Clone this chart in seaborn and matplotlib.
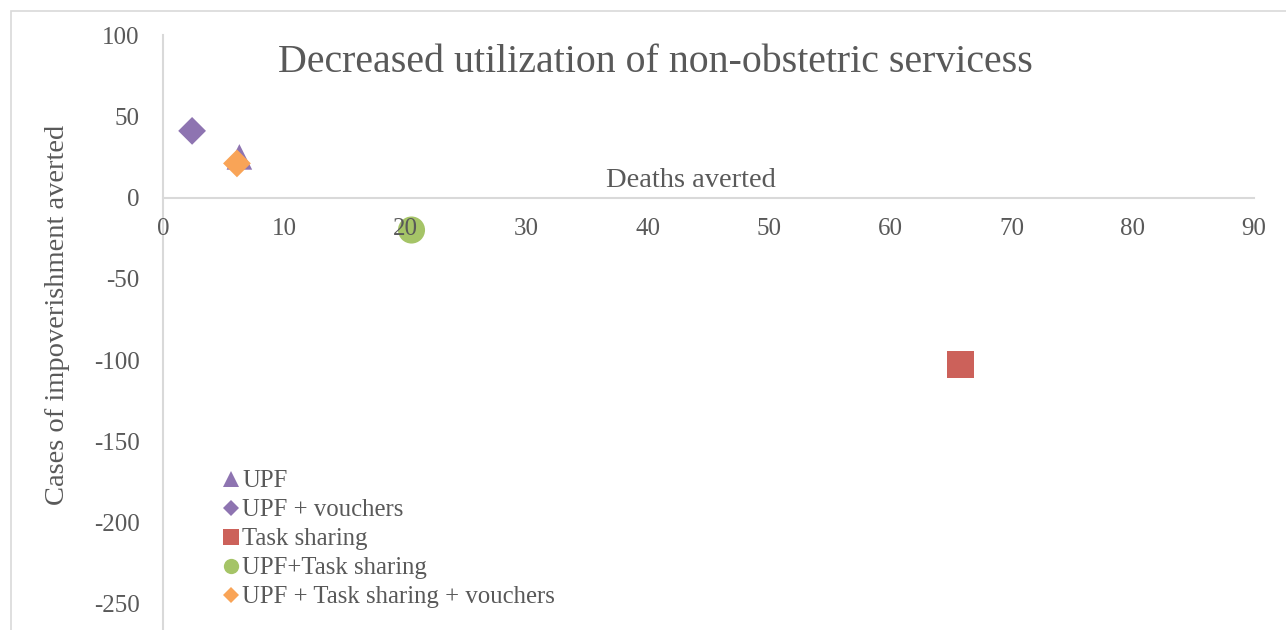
import matplotlib
matplotlib.use("Agg")
import matplotlib.pyplot as plt
import matplotlib.patches as mpatches
from matplotlib.lines import Line2D
import pandas as pd
import seaborn as sns

# values
schemes = ["UPF", "UPF + vouchers", "Task sharing", "UPF+Task sharing",
           "UPF + Task sharing + vouchers"]
deaths_averted = [6.3, 2.4, 65.8, 20.5, 6.1]
impoverishment_averted = [25, 41, -103, -20, 21]
colors = ["#8E74B1", "#8E74B1", "#CC615A", "#A5C467", "#F9A457"]
markers = ["^", "D", "s", "o", "D"]
marker_sizes = [340, 200, 380, 380, 200]

xticks = list(range(0, 91, 10))
yticks = list(range(-250, 101, 50))

df = pd.DataFrame({"scheme": schemes, "deaths": deaths_averted,
                   "impov": impoverishment_averted})

sns.set_style("white")
plt.rcParams["font.family"] = ["Liberation Serif", "DejaVu Serif"]
grey = "#595959"
line_grey = "#D9D9D9"

fig = plt.figure(figsize=(12.86, 6.3), dpi=100)
ax = fig.add_axes([163 / 1286, 1 - 629 / 630, (1254 - 163) / 1286, (629 - 35) / 630])

# draw each series separately so marker sizes can differ
for i, name in enumerate(schemes):
    sns.scatterplot(data=df[df["scheme"] == name], x="deaths", y="impov",
                    marker=markers[i], color=colors[i], s=marker_sizes[i],
                    edgecolor="none", ax=ax, zorder=2)

for side in ["top", "right"]:
    ax.spines[side].set_visible(False)
ax.spines["bottom"].set_position(("data", 0))
for side in ["bottom", "left"]:
    ax.spines[side].set_color(line_grey)
    ax.spines[side].set_linewidth(1.5)
    ax.spines[side].set_zorder(1)

ax.set_xlim(0, 90)
ax.set_ylim(-265.5, 100)
ax.set_xticks(xticks)
ax.set_yticks(yticks)
ax.set_xticklabels([str(v) for v in xticks], color=grey, fontsize=18)
ax.set_yticklabels([str(v) for v in yticks], color=grey, fontsize=18)
ax.tick_params(axis="x", length=0, pad=15)
ax.tick_params(axis="y", length=0, pad=17)
# tick labels sit on top of the markers (the "20" over the green circle)
ax.set_axisbelow(False)
ax.set_xlabel("")
ax.set_ylabel("Cases of impoverishment averted", fontsize=20.5, color=grey)
ax.yaxis.set_label_coords((70 - 163) / 1091, (629 - 315) / 594)

ax.annotate("Deaths averted", xy=((691 - 163) / 1091, 0),
            xycoords=("axes fraction", "data"),
            xytext=(0, 3), textcoords="offset points", ha="center", va="bottom",
            fontsize=20.5, color=grey)

fig.text(655 / 1286, 1 - 63 / 630, "Decreased utilization of non-obstetric servicess",
         ha="center", va="center", fontsize=28.7, color=grey)

handles = [Line2D([], [], linestyle="none", marker=markers[i], color=colors[i],
                  markersize=11 if markers[i] != "D" else 8, markeredgewidth=0)
           for i in range(len(schemes))]
ax.legend(handles, schemes, loc="lower left", bbox_to_anchor=(0.043, 0.014),
          frameon=False, fontsize=17.8, handlelength=0.7, handletextpad=0.1,
          labelspacing=0.27, labelcolor=grey, borderpad=0)

# light frame around the whole chart
fig.patches.append(mpatches.Rectangle((11 / 1286, -0.01), 1.0,
                                      1 - 11 / 630 + 0.01, transform=fig.transFigure,
                                      fill=False, edgecolor=line_grey, lw=1.2))

fig.savefig("out.png", dpi=100)
